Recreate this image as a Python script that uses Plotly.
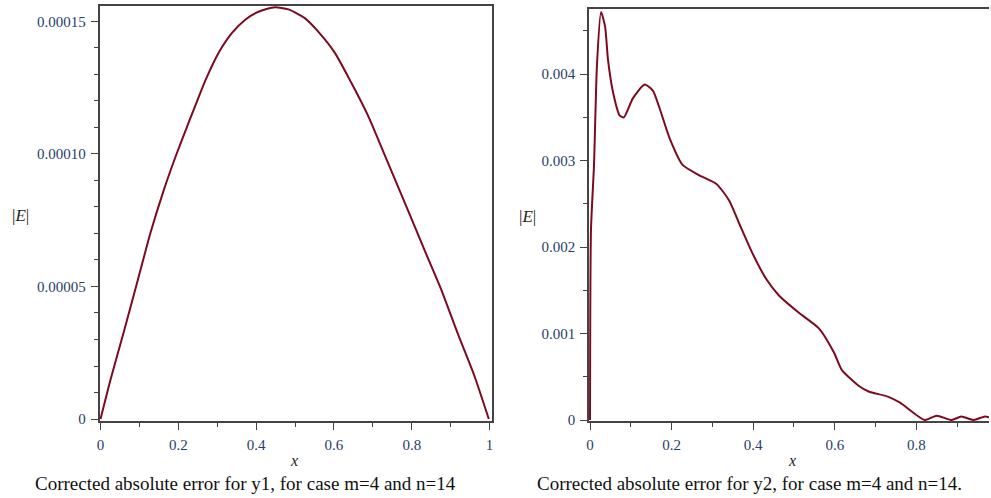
import plotly.graph_objects as go

# ---- data ----
x1 = [0.0, 0.026, 0.061, 0.095, 0.129, 0.163, 0.193, 0.218, 0.244, 0.269, 0.304, 0.338, 0.372,
      0.406, 0.448, 0.483, 0.525, 0.559, 0.602, 0.644, 0.687, 0.73, 0.79, 0.832, 0.875, 0.917,
      0.96, 0.998]
y1 = [0.0, 0.0000150, 0.0000335, 0.0000520, 0.0000705, 0.0000865, 0.0000990, 0.0001086, 0.0001183,
      0.0001275, 0.0001382, 0.0001456, 0.0001506, 0.0001536, 0.0001553, 0.0001545, 0.0001512,
      0.0001462, 0.0001382, 0.0001270, 0.0001146, 0.0000997, 0.0000788, 0.0000640, 0.0000491,
      0.0000327, 0.0000167, 0.0]

x2 = [0.0, 0.0024, 0.0098, 0.017, 0.027, 0.037, 0.044, 0.056, 0.073, 0.083, 0.105, 0.134, 0.154,
      0.171, 0.195, 0.227, 0.268, 0.31, 0.341, 0.366, 0.398, 0.432, 0.463, 0.512, 0.561, 0.598,
      0.617, 0.66, 0.683, 0.73, 0.76, 0.82, 0.85, 0.886, 0.91, 0.94, 0.968, 0.98]
y2 = [0.0, 0.0022, 0.00295, 0.0041, 0.00472, 0.00455, 0.00417, 0.0038, 0.00352, 0.0035, 0.00372,
      0.00388, 0.00381, 0.0036, 0.00326, 0.00295, 0.00283, 0.00273, 0.00254, 0.00227, 0.00193,
      0.00163, 0.00144, 0.00124, 0.00106, 0.00078, 0.00058, 0.00039, 0.00033, 0.00027, 0.0002,
      0.0, 0.00005, 0.0, 0.00004, 0.0, 0.00004, 0.00003]

x_ticks1 = [0, 0.2, 0.4, 0.6, 0.8, 1]
x_ticktext1 = ["0", "0.2", "0.4", "0.6", "0.8", "1"]
y_ticks1 = [0, 0.00005, 0.0001, 0.00015]
y_ticktext1 = ["0", "0.00005", "0.00010", "0.00015"]
x_ticks2 = [0, 0.2, 0.4, 0.6, 0.8]
x_ticktext2 = ["0", "0.2", "0.4", "0.6", "0.8"]
y_ticks2 = [0, 0.001, 0.002, 0.003, 0.004]
y_ticktext2 = ["0", "0.001", "0.002", "0.003", "0.004"]

caption1 = "Corrected absolute error for y1, for case m=4 and n=14"
caption2 = "Corrected absolute error for y2, for case m=4 and n=14."

# ---- figure ----
W, H = 991, 498
curve_color = "#7d0a1e"
axis_color = "#444444"
tick_font = dict(family="Liberation Serif", size=15, color="#27406a")
serif = "Liberation Serif"

fig = go.Figure()
fig.add_trace(go.Scatter(x=x1, y=y1, mode="lines",
                         line=dict(color=curve_color, width=2, shape="spline", smoothing=0.6),
                         xaxis="x", yaxis="y", showlegend=False))
fig.add_trace(go.Scatter(x=x2, y=y2, mode="lines",
                         line=dict(color=curve_color, width=2, shape="spline", smoothing=0.6),
                         xaxis="x2", yaxis="y2", showlegend=False))


def px_x(p):
    return p / W


def px_y(p):
    return (H - p) / H


common_axis = dict(showgrid=False, zeroline=False, showline=True, linecolor=axis_color, linewidth=1.5,
                   ticks="outside", ticklen=7, tickwidth=1.2, tickcolor=axis_color, tickfont=tick_font,
                   ticklabelstandoff=2)
minor_common = dict(ticklen=4, tickcolor=axis_color, ticks="outside", tickwidth=1.1)

fig.update_layout(
    width=W, height=H,
    margin=dict(l=0, r=0, t=0, b=0),
    paper_bgcolor="white", plot_bgcolor="white",
    xaxis=dict(domain=[px_x(97), px_x(491)], range=[-0.0026, 1.005], anchor="y",
               tickvals=x_ticks1, ticktext=x_ticktext1, mirror=True,
               minor=dict(dtick=0.1, **minor_common), **common_axis),
    yaxis=dict(domain=[px_y(427), px_y(6)], range=[-0.00000074, 0.0001558], anchor="x",
               tickvals=y_ticks1, ticktext=y_ticktext1, mirror=True,
               minor=dict(dtick=0.00001, **minor_common), **common_axis),
    xaxis2=dict(domain=[px_x(589), 1.0], range=[-0.0024, 0.978], anchor="y2",
                tickvals=x_ticks2, ticktext=x_ticktext2, mirror=True,
                minor=dict(dtick=0.1, **minor_common), **common_axis),
    yaxis2=dict(domain=[px_y(427), px_y(9)], range=[-0.0000114, 0.004755], anchor="x2",
                tickvals=y_ticks2, ticktext=y_ticktext2, mirror=False,
                minor=dict(dtick=0.0005, **minor_common), **common_axis),
)

annos = [
    dict(x=px_x(292), y=px_y(467), text="<i>x</i>", font=dict(family=serif, size=16, color="#222222")),
    dict(x=px_x(793), y=px_y(467), text="<i>x</i>", font=dict(family=serif, size=16, color="#222222")),
    dict(x=px_x(18), y=px_y(219), text="|<i>E</i>|", font=dict(family=serif, size=17, color="#222222")),
    dict(x=px_x(527), y=px_y(220), text="|<i>E</i>|", font=dict(family=serif, size=17, color="#222222")),
    dict(x=px_x(243.5), y=px_y(490), text=caption1, font=dict(family=serif, size=19, color="#111111")),
    dict(x=px_x(750.5), y=px_y(490), text=caption2, font=dict(family=serif, size=19, color="#111111")),
]
for a in annos:
    fig.add_annotation(xref="paper", yref="paper", showarrow=False, xanchor="center", yanchor="middle", **a)

fig.write_html("out.html")
